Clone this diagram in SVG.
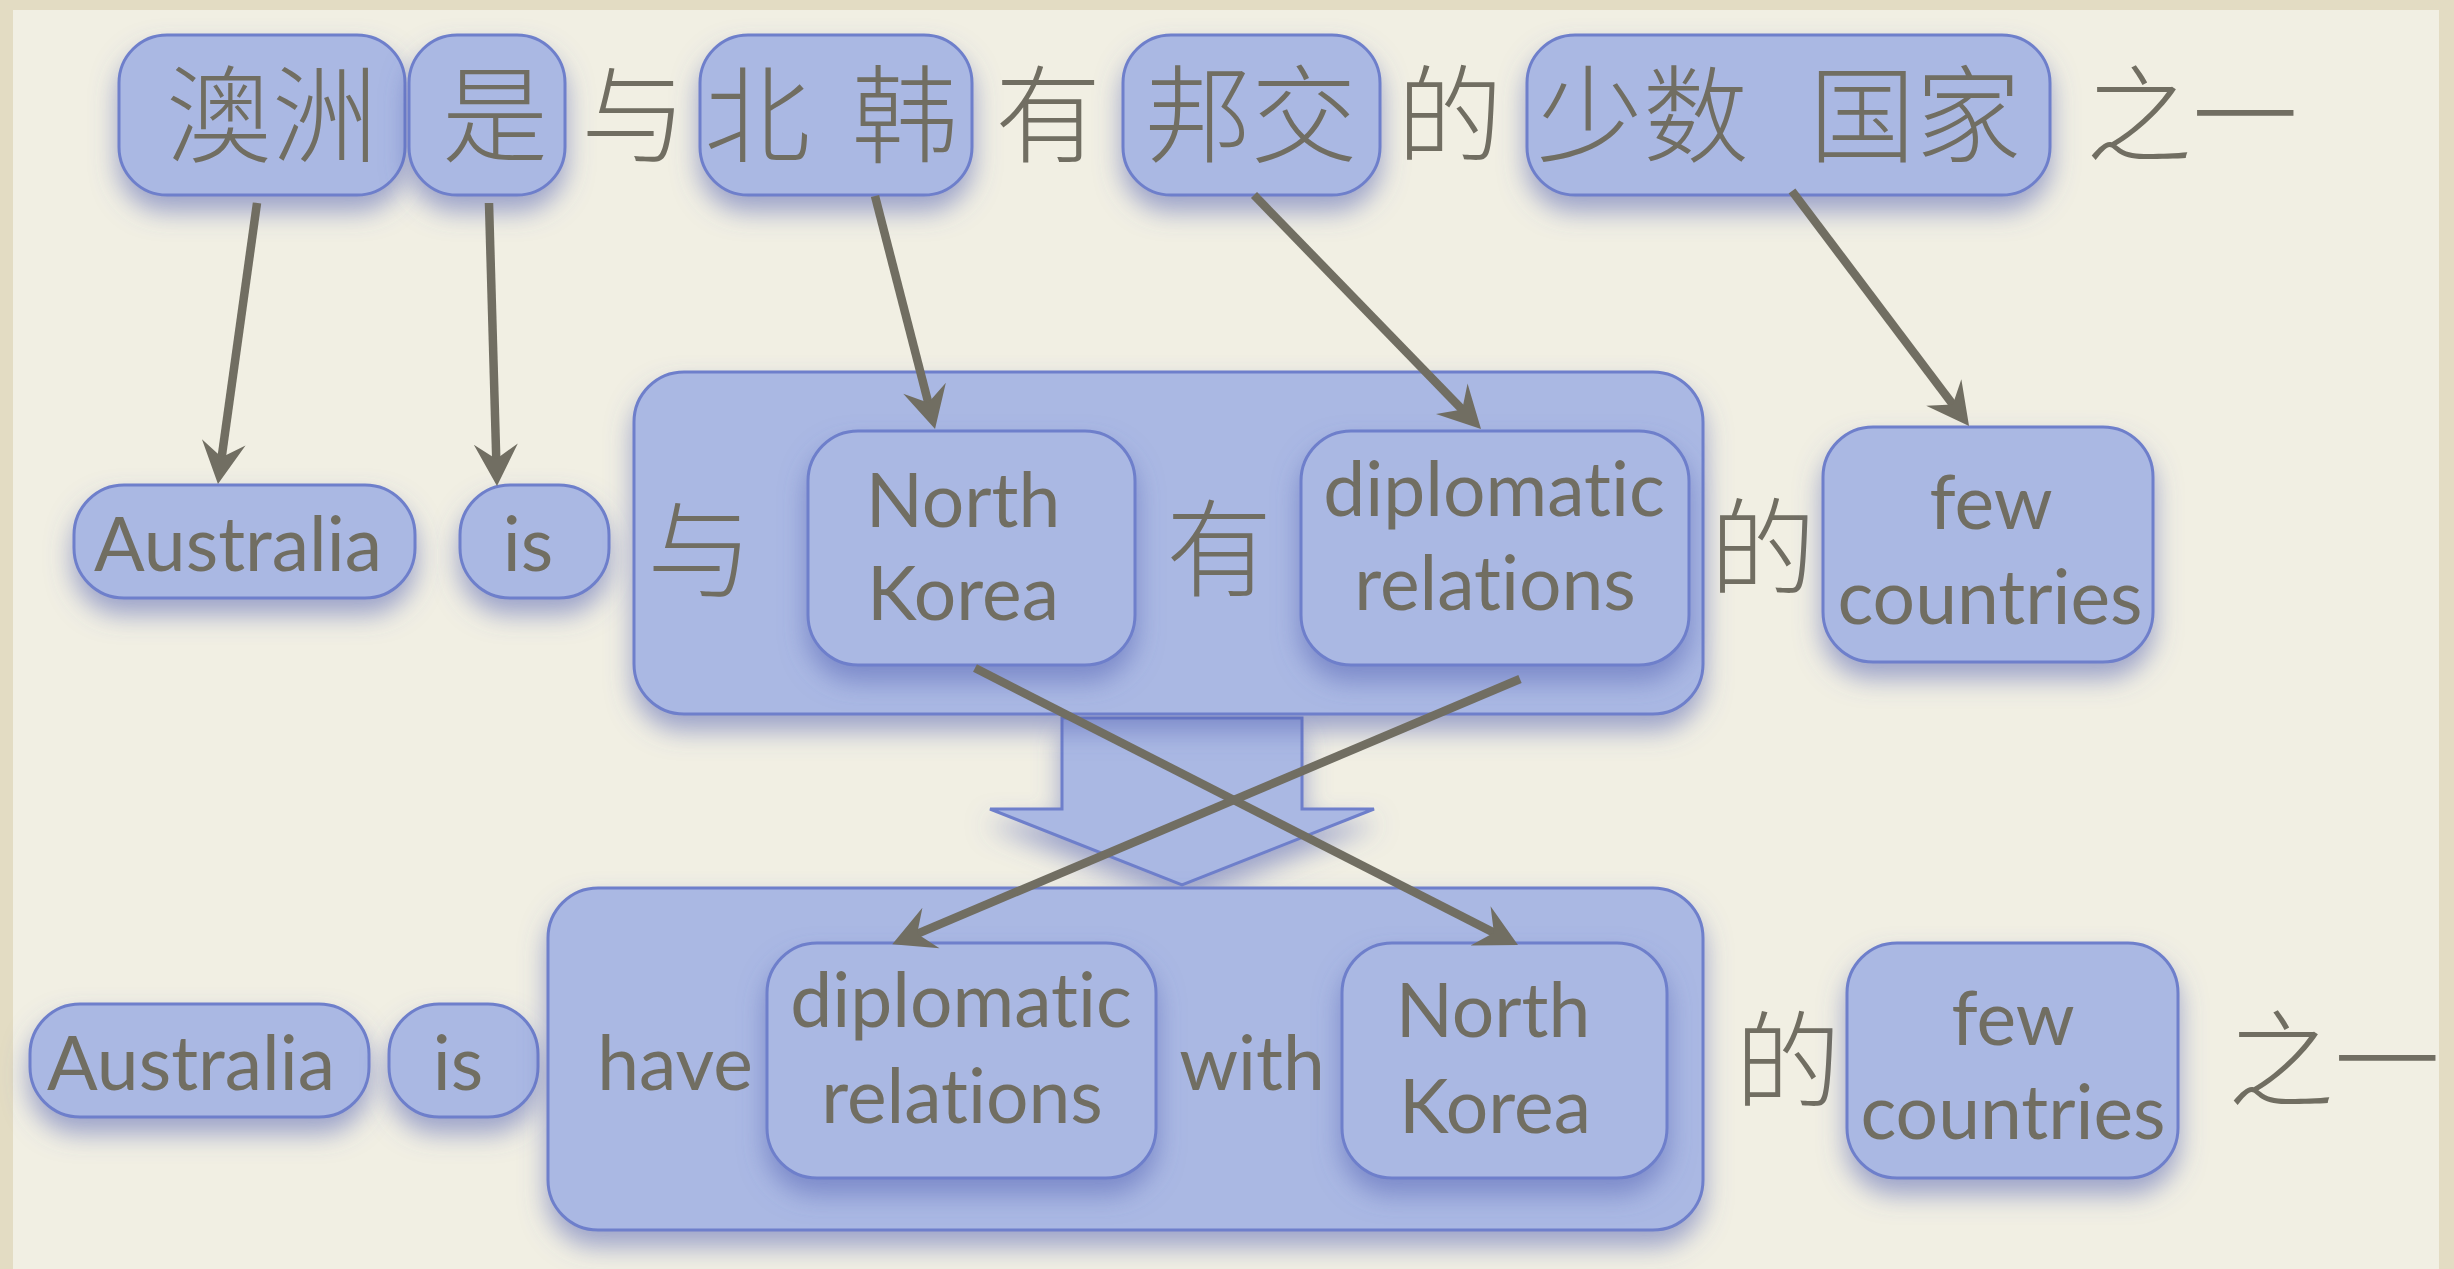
<svg xmlns="http://www.w3.org/2000/svg" width="2454" height="1269" viewBox="0 0 2454 1269">
<defs>
<style>
.box{fill:#aab8e3;stroke:#6e7fcb;stroke-width:3;filter:url(#sh)}
.cjk{font-family:"Noto Sans CJK SC","Noto Sans",sans-serif;font-size:106px;font-weight:300;fill:#716e62;text-anchor:middle}
.en{font-family:Lato,"Liberation Sans",sans-serif;font-size:75px;fill:#716e62;text-anchor:middle;font-variant-ligatures:none}
.con{stroke:#716e62;stroke-width:8.5;fill:none;marker-end:url(#ah)}
</style>
<filter id="sh" x="-20%" y="-20%" width="140%" height="170%">
<feDropShadow dx="0" dy="15" stdDeviation="13" flood-color="#5465b5" flood-opacity="0.55"/>
</filter>
<marker id="ah" markerUnits="userSpaceOnUse" viewBox="-20 -25 50 50" markerWidth="50" markerHeight="50" refX="0" refY="0" orient="auto">
<path d="M25,0 L-17,-22 L-2,0 L-17,22 Z" fill="#716e62"/>
</marker>
</defs>
<rect x="0" y="0" width="2454" height="1269" fill="#e3dcc3"/>
<rect x="13" y="10" width="2426" height="1259" fill="#f1efe3"/>

<!-- top row -->
<g id="n-aozhou"><rect class="box" x="119" y="35" width="286" height="160" rx="48"/><text class="cjk" x="272" y="154">澳洲</text></g>
<g id="n-shi"><rect class="box" x="409" y="35" width="156" height="160" rx="48"/><text class="cjk" x="495" y="154">是</text></g>
<g id="t-yu"><text class="cjk" x="634" y="154">与</text></g>
<g id="n-beihan"><rect class="box" x="700" y="35" width="272" height="160" rx="48"/><text class="cjk" x="831" y="154" word-spacing="18">北 韩</text></g>
<g id="t-you"><text class="cjk" x="1048" y="154">有</text></g>
<g id="n-bangjiao"><rect class="box" x="1123" y="35" width="257" height="160" rx="48"/><text class="cjk" x="1251" y="154">邦交</text></g>
<g id="t-de"><text class="cjk" x="1450" y="154">的</text></g>
<g id="n-shaoshu"><rect class="box" x="1527" y="35" width="523" height="160" rx="48"/><text class="cjk" x="1779" y="154" word-spacing="37">少数 国家</text></g>
<g id="t-zhiyi"><text class="cjk" x="2192" y="154">之一</text></g>

<!-- block arrow -->
<g id="n-transform"><polygon class="box" points="1062,718 1302,718 1302,809 1374,809 1182,885 990,809 1062,809"/></g>

<!-- middle row -->
<g id="n-aus1"><rect class="box" x="74" y="485" width="341" height="113" rx="50"/><text class="en" x="238" y="571">Australia</text></g>
<g id="n-is1"><rect class="box" x="460" y="485" width="149" height="113" rx="50"/><text class="en" x="528" y="571">is</text></g>
<g id="n-group1"><rect class="box" x="634" y="372" width="1069" height="342" rx="50"/>
<text class="cjk" x="700" y="589">与</text>
<text class="cjk" x="1219" y="588">有</text></g>
<g id="n-nk1"><rect class="box" x="808" y="431" width="327" height="234" rx="50"/><text class="en" x="963" y="527">North</text><text class="en" x="963" y="620">Korea</text></g>
<g id="n-dr1"><rect class="box" x="1301" y="431" width="388" height="234" rx="50"/><text class="en" x="1494" y="516">diplomatic</text><text class="en" x="1495" y="610">relations</text></g>
<g id="t-de2"><text class="cjk" x="1763" y="587">的</text></g>
<g id="n-few1"><rect class="box" x="1823" y="427" width="330" height="235" rx="50"/><text class="en" x="1991" y="529">few</text><text class="en" x="1990" y="624">countries</text></g>

<!-- bottom row -->
<g id="n-aus2"><rect class="box" x="30" y="1004" width="339" height="113" rx="50"/><text class="en" x="191" y="1090">Australia</text></g>
<g id="n-is2"><rect class="box" x="389" y="1004" width="149" height="113" rx="50"/><text class="en" x="458" y="1090">is</text></g>
<g id="n-group2"><rect class="box" x="548" y="888" width="1155" height="342" rx="50"/>
<text class="en" x="675" y="1090">have</text>
<text class="en" x="1252" y="1090">with</text></g>
<g id="n-dr2"><rect class="box" x="767" y="943" width="389" height="235" rx="50"/><text class="en" x="961" y="1027">diplomatic</text><text class="en" x="962" y="1123">relations</text></g>
<g id="n-nk2"><rect class="box" x="1342" y="943" width="325" height="235" rx="50"/><text class="en" x="1493" y="1037">North</text><text class="en" x="1495" y="1133">Korea</text></g>
<g id="t-de3"><text class="cjk" x="1788" y="1100">的</text></g>
<g id="n-few2"><rect class="box" x="1847" y="943" width="331" height="235" rx="50"/><text class="en" x="2013" y="1045">few</text><text class="en" x="2013" y="1139">countries</text></g>
<g id="t-zhiyi2"><text class="cjk" x="2334" y="1099">之一</text></g>

<!-- connectors -->
<g id="connectors">
<line class="con" x1="257" y1="203" x2="221.4" y2="459.2"/>
<line class="con" x1="489" y1="203" x2="496.3" y2="461"/>
<line class="con" x1="875" y1="196" x2="928.8" y2="404.8"/>
<line class="con" x1="1254" y1="195" x2="1463.6" y2="411"/>
<line class="con" x1="1792" y1="191" x2="1954" y2="406"/>
<line class="con" x1="975" y1="668" x2="1495.7" y2="933.6"/>
<line class="con" x1="1520" y1="679" x2="915.3" y2="934.6"/>
</g>
</svg>
